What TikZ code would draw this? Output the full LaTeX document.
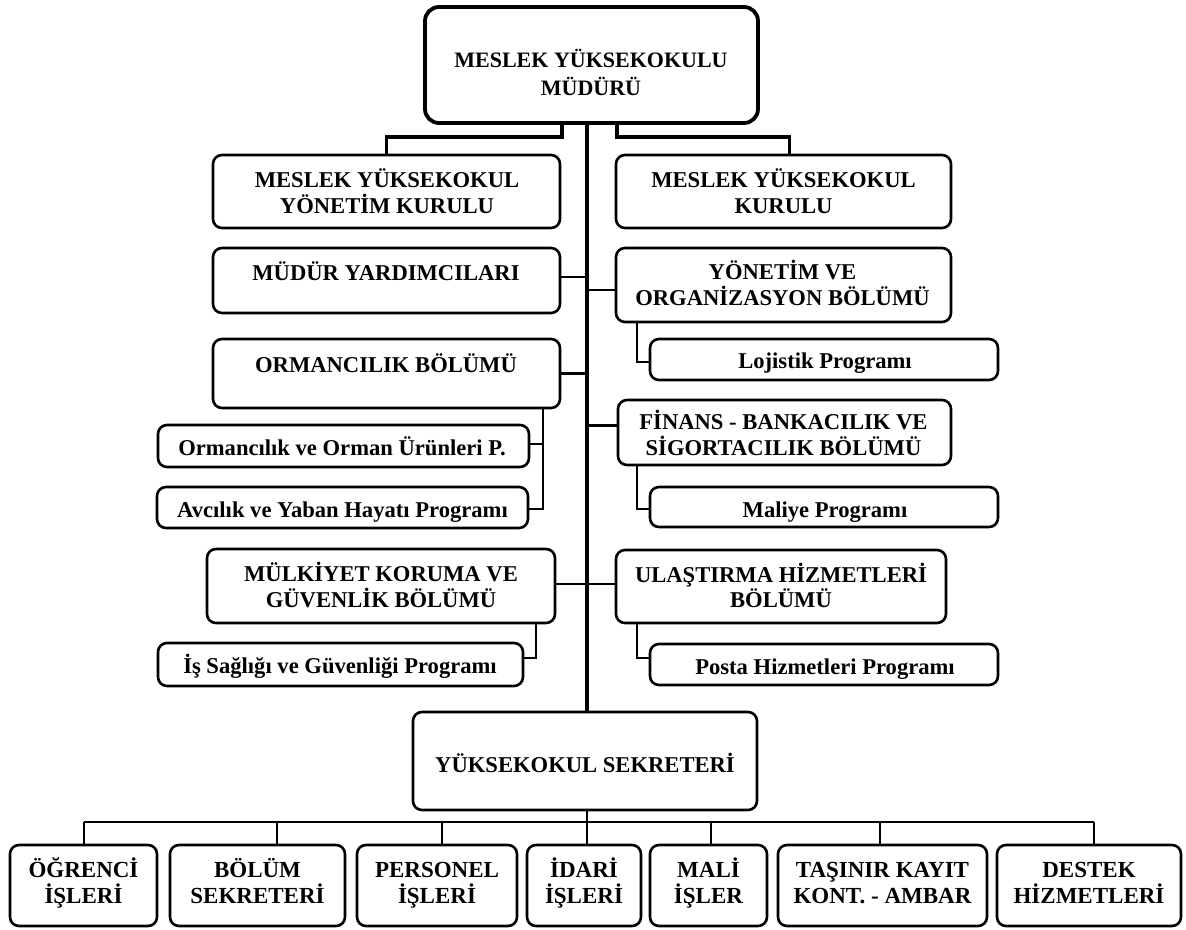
\documentclass[tikz,border=0pt]{standalone}
\usepackage{fontspec}
\setmainfont{Liberation Serif}
\newcommand\stA{\rule{0pt}{21pt}}
\newcommand\stZ{\rule[-5.5pt]{0pt}{5.5pt}}
\begin{document}
\begin{tikzpicture}[x=1pt,y=-1pt,
  box/.style={draw, line width=2.6pt, rounded corners=9pt, fill=white, inner sep=0pt},
  topbox/.style={box, line width=3.8pt, rounded corners=14pt},
  txt/.style={font=\fontsize{22.6}{25.5}\selectfont\bfseries, align=center, inner sep=0pt},
  toptxt/.style={txt, font=\fontsize{22}{28}\selectfont\bfseries},
  bottxt/.style={txt, font=\fontsize{23}{25.5}\selectfont\bfseries},
  ln/.style={line width=2.6pt},
  tln/.style={line width=3.3pt},
  spine/.style={line width=4.5pt},
]
\newcommand\bx[6][box]{\node[#1, minimum width={#5-#3}, minimum height={#6-#4}] (#2) at ({(#3+#5)/2},{(#4+#6)/2}) {};}
\useasboundingbox (0,0) rectangle (1186,929);

% boxes
\bx[topbox]{top}{425}{7}{758}{123}
\bx{myk}{213}{155}{560}{228}
\bx{mykk}{616}{155}{951}{228}
\bx{myr}{213}{248}{560}{313}
\bx{yon}{616}{248}{951}{322}
\bx{loj}{650}{339}{998}{380}
\bx{orm}{213}{339}{560}{408}
\bx{fin}{618}{400}{951}{465}
\bx{orp}{158}{425}{529}{467}
\bx{mal}{650}{487}{998}{527}
\bx{avc}{157}{487}{528}{528}
\bx{mul}{207}{549}{555}{623}
\bx{ula}{616}{550}{946}{623}
\bx{isg}{158}{643}{523}{686}
\bx{pos}{650}{644}{998}{685}
\bx{sek}{413}{712}{757}{810}
\bx{ogr}{10}{845}{157}{926}
\bx{bol}{170}{845}{345}{926}
\bx{per}{357}{845}{517}{926}
\bx{ida}{527}{845}{641}{926}
\bx{mli}{650}{845}{767}{926}
\bx{tas}{778}{845}{987}{926}
\bx{des}{997}{845}{1181}{926}

% texts
\node[toptxt] (topT) at (591,73.25) {\stA MESLEK YÜKSEKOKULU\\MÜDÜRÜ\stZ};
\node[txt] (mykT) at (387,192.75) {\stA MESLEK YÜKSEKOKUL\\YÖNETİM KURULU\stZ};
\node[txt] (mykkT) at (783.5,192.75) {\stA MESLEK YÜKSEKOKUL\\KURULU\stZ};
\node[txt] (myrT) at (386,272.25) {\stA MÜDÜR YARDIMCILARI\stZ};
\node[txt] (yonT) at (782.5,284.75) {\stA YÖNETİM VE\\ORGANİZASYON BÖLÜMÜ\stZ};
\node[txt] (lojT) at (825,360.25) {\stA Lojistik Programı\stZ};
\node[txt] (ormT) at (386,364.25) {\stA ORMANCILIK BÖLÜMÜ\stZ};
\node[txt] (finT) at (783.5,434.75) {\stA FİNANS - BANKACILIK VE\\SİGORTACILIK BÖLÜMÜ\stZ};
\node[txt] (orpT) at (342,447.25) {\stA Ormancılık ve Orman Ürünleri P.\stZ};
\node[txt] (malT) at (825,509.25) {\stA Maliye Programı\stZ};
\node[txt] (avcT) at (342.5,509.25) {\stA Avcılık ve Yaban Hayatı Programı\stZ};
\node[txt] (mulT) at (381,586.75) {\stA MÜLKİYET KORUMA VE\\GÜVENLİK BÖLÜMÜ\stZ};
\node[txt] (ulaT) at (781,587.25) {\stA ULAŞTIRMA HİZMETLERİ\\BÖLÜMÜ\stZ};
\node[txt] (isgT) at (340,665.25) {\stA İş Sağlığı ve Güvenliği Programı\stZ};
\node[txt] (posT) at (825,666.25) {\stA Posta Hizmetleri Programı\stZ};
\node[txt] (sekT) at (585,764.25) {\stA YÜKSEKOKUL SEKRETERİ\stZ};
\node[bottxt] (ogrT) at (83.5,882.75) {\stA ÖĞRENCİ\\İŞLERİ\stZ};
\node[bottxt] (bolT) at (257.5,882.75) {\stA BÖLÜM\\SEKRETERİ\stZ};
\node[bottxt] (perT) at (437,882.75) {\stA PERSONEL\\İŞLERİ\stZ};
\node[bottxt] (idaT) at (584,882.75) {\stA İDARİ\\İŞLERİ\stZ};
\node[bottxt] (mliT) at (708.5,882.75) {\stA MALİ\\İŞLER\stZ};
\node[bottxt] (tasT) at (882.5,882.75) {\stA TAŞINIR KAYIT\\KONT. - AMBAR\stZ};
\node[bottxt] (desT) at (1089,882.75) {\stA DESTEK\\HİZMETLERİ\stZ};

% helper coordinates
\coordinate (spx) at (587,0);
\coordinate (tl) at (562,137);
\coordinate (tr) at (617,137);
\coordinate (rb) at (637,0);
\coordinate (lb) at (543,0);
\coordinate (mb) at (536,0);
\coordinate (bar) at (587,822);
\coordinate (d1) at (84,822);
\coordinate (d2) at (277,822);
\coordinate (d3) at (442,822);
\coordinate (d5) at (711,822);
\coordinate (d6) at (880,822);
\coordinate (d7) at (1094,822);

% spine
\draw[spine] (top.south -| spx) -- (sek.north -| spx);
% top connectors
\draw[tln] (top.south -| tl) -- (tl) -| (myk.north);
\draw[tln] (top.south -| tr) -- (tr) -| ([xshift=6pt]mykk.north);
% side connectors
\draw[ln] ([yshift=3.5pt]myr.east) -- ([yshift=3.5pt]myr.east -| spx);
\draw[ln] ([yshift=-5pt]yon.west) -- ([yshift=-5pt]yon.west -| spx);
\draw[ln] (orm.east) -- (orm.east -| spx);
\draw[ln] ([yshift=7pt]fin.west) -- ([yshift=7pt]fin.west -| spx);
\draw[ln] ([yshift=2pt]mul.east) -- ([yshift=2pt]mul.east -| spx);
\draw[ln] ([yshift=2.5pt]ula.west) -- ([yshift=2.5pt]ula.west -| spx);
% program connectors right
\draw[ln] (yon.south -| rb) |- ([yshift=-2.5pt]loj.west);
\draw[ln] (fin.south -| rb) |- ([yshift=-2pt]mal.west);
\draw[ln] (ula.south -| rb) |- ([yshift=6.5pt]pos.west);
% program connectors left
\draw[ln] (orm.south -| lb) |- ([yshift=-1.5pt]avc.east);
\draw[ln] ([yshift=2pt]orp.east) -- ([yshift=2pt]orp.east -| lb);
\draw[ln] (mul.south -| mb) |- ([yshift=6.5pt]isg.east);
% bottom
\draw[ln] (sek.south -| bar) -- (bar);
\draw[ln] (d1) -- (d7);
\draw[ln] (d1) -- (d1 |- ogr.north);
\draw[ln] (d2) -- (d2 |- bol.north);
\draw[ln] (d3) -- (d3 |- per.north);
\draw[ln] (bar) -- (bar |- ida.north);
\draw[ln] (d5) -- (d5 |- mli.north);
\draw[ln] (d6) -- (d6 |- tas.north);
\draw[ln] (d7) -- (d7 |- des.north);
\end{tikzpicture}
\end{document}
